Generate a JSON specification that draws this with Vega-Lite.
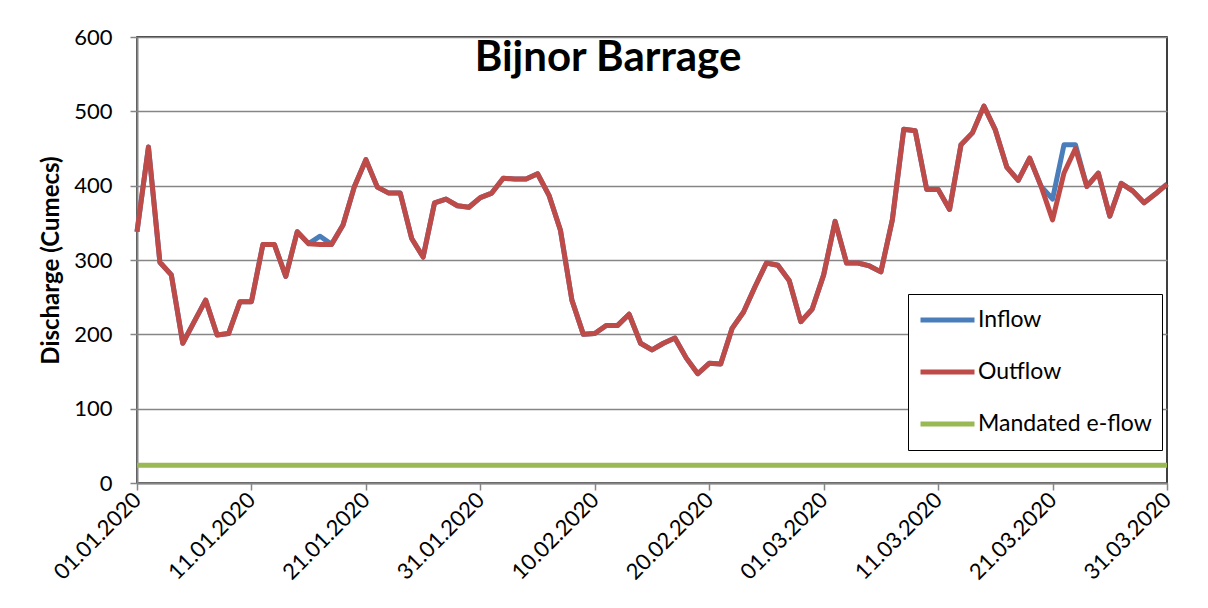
{
  "$schema": "https://vega.github.io/schema/vega-lite/v6.json",
  "width": 1030,
  "height": 446,
  "autosize": {"type": "none"},
  "padding": {"left": 137, "top": 37, "right": 41, "bottom": 125},
  "background": "white",
  "title": {
    "text": "Bijnor Barrage",
    "font": "Lato",
    "fontSize": 42,
    "fontWeight": "bold",
    "color": "black",
    "anchor": "middle",
    "baseline": "top",
    "offset": 0,
    "dy": 54,
    "dx": -44
  },
  "config": {
    "font": "Lato",
    "view": {"stroke": "black", "strokeWidth": 1.5}
  },
  "data": {
    "values": [
      {"date": "2020-01-01", "Inflow": 338, "Outflow": 338, "Mandated e-flow": 24},
      {"date": "2020-01-02", "Inflow": 452, "Outflow": 452, "Mandated e-flow": 24},
      {"date": "2020-01-03", "Inflow": 297, "Outflow": 297, "Mandated e-flow": 24},
      {"date": "2020-01-04", "Inflow": 280, "Outflow": 280, "Mandated e-flow": 24},
      {"date": "2020-01-05", "Inflow": 188, "Outflow": 188, "Mandated e-flow": 24},
      {"date": "2020-01-06", "Inflow": 217, "Outflow": 217, "Mandated e-flow": 24},
      {"date": "2020-01-07", "Inflow": 246, "Outflow": 246, "Mandated e-flow": 24},
      {"date": "2020-01-08", "Inflow": 199, "Outflow": 199, "Mandated e-flow": 24},
      {"date": "2020-01-09", "Inflow": 201, "Outflow": 201, "Mandated e-flow": 24},
      {"date": "2020-01-10", "Inflow": 244, "Outflow": 244, "Mandated e-flow": 24},
      {"date": "2020-01-11", "Inflow": 244, "Outflow": 244, "Mandated e-flow": 24},
      {"date": "2020-01-12", "Inflow": 321, "Outflow": 321, "Mandated e-flow": 24},
      {"date": "2020-01-13", "Inflow": 321, "Outflow": 321, "Mandated e-flow": 24},
      {"date": "2020-01-14", "Inflow": 278, "Outflow": 278, "Mandated e-flow": 24},
      {"date": "2020-01-15", "Inflow": 338, "Outflow": 338, "Mandated e-flow": 24},
      {"date": "2020-01-16", "Inflow": 322, "Outflow": 322, "Mandated e-flow": 24},
      {"date": "2020-01-17", "Inflow": 332, "Outflow": 321, "Mandated e-flow": 24},
      {"date": "2020-01-18", "Inflow": 321, "Outflow": 321, "Mandated e-flow": 24},
      {"date": "2020-01-19", "Inflow": 347, "Outflow": 347, "Mandated e-flow": 24},
      {"date": "2020-01-20", "Inflow": 399, "Outflow": 399, "Mandated e-flow": 24},
      {"date": "2020-01-21", "Inflow": 435, "Outflow": 435, "Mandated e-flow": 24},
      {"date": "2020-01-22", "Inflow": 398, "Outflow": 398, "Mandated e-flow": 24},
      {"date": "2020-01-23", "Inflow": 390, "Outflow": 390, "Mandated e-flow": 24},
      {"date": "2020-01-24", "Inflow": 390, "Outflow": 390, "Mandated e-flow": 24},
      {"date": "2020-01-25", "Inflow": 329, "Outflow": 329, "Mandated e-flow": 24},
      {"date": "2020-01-26", "Inflow": 304, "Outflow": 304, "Mandated e-flow": 24},
      {"date": "2020-01-27", "Inflow": 377, "Outflow": 377, "Mandated e-flow": 24},
      {"date": "2020-01-28", "Inflow": 382, "Outflow": 382, "Mandated e-flow": 24},
      {"date": "2020-01-29", "Inflow": 373, "Outflow": 373, "Mandated e-flow": 24},
      {"date": "2020-01-30", "Inflow": 371, "Outflow": 371, "Mandated e-flow": 24},
      {"date": "2020-01-31", "Inflow": 384, "Outflow": 384, "Mandated e-flow": 24},
      {"date": "2020-02-01", "Inflow": 390, "Outflow": 390, "Mandated e-flow": 24},
      {"date": "2020-02-02", "Inflow": 410, "Outflow": 410, "Mandated e-flow": 24},
      {"date": "2020-02-03", "Inflow": 409, "Outflow": 409, "Mandated e-flow": 24},
      {"date": "2020-02-04", "Inflow": 409, "Outflow": 409, "Mandated e-flow": 24},
      {"date": "2020-02-05", "Inflow": 416, "Outflow": 416, "Mandated e-flow": 24},
      {"date": "2020-02-06", "Inflow": 387, "Outflow": 387, "Mandated e-flow": 24},
      {"date": "2020-02-07", "Inflow": 340, "Outflow": 340, "Mandated e-flow": 24},
      {"date": "2020-02-08", "Inflow": 246, "Outflow": 246, "Mandated e-flow": 24},
      {"date": "2020-02-09", "Inflow": 200, "Outflow": 200, "Mandated e-flow": 24},
      {"date": "2020-02-10", "Inflow": 201, "Outflow": 201, "Mandated e-flow": 24},
      {"date": "2020-02-11", "Inflow": 212, "Outflow": 212, "Mandated e-flow": 24},
      {"date": "2020-02-12", "Inflow": 212, "Outflow": 212, "Mandated e-flow": 24},
      {"date": "2020-02-13", "Inflow": 227, "Outflow": 227, "Mandated e-flow": 24},
      {"date": "2020-02-14", "Inflow": 188, "Outflow": 188, "Mandated e-flow": 24},
      {"date": "2020-02-15", "Inflow": 179, "Outflow": 179, "Mandated e-flow": 24},
      {"date": "2020-02-16", "Inflow": 188, "Outflow": 188, "Mandated e-flow": 24},
      {"date": "2020-02-17", "Inflow": 195, "Outflow": 195, "Mandated e-flow": 24},
      {"date": "2020-02-18", "Inflow": 168, "Outflow": 168, "Mandated e-flow": 24},
      {"date": "2020-02-19", "Inflow": 147, "Outflow": 147, "Mandated e-flow": 24},
      {"date": "2020-02-20", "Inflow": 161, "Outflow": 161, "Mandated e-flow": 24},
      {"date": "2020-02-21", "Inflow": 160, "Outflow": 160, "Mandated e-flow": 24},
      {"date": "2020-02-22", "Inflow": 208, "Outflow": 208, "Mandated e-flow": 24},
      {"date": "2020-02-23", "Inflow": 230, "Outflow": 230, "Mandated e-flow": 24},
      {"date": "2020-02-24", "Inflow": 264, "Outflow": 264, "Mandated e-flow": 24},
      {"date": "2020-02-25", "Inflow": 296, "Outflow": 296, "Mandated e-flow": 24},
      {"date": "2020-02-26", "Inflow": 293, "Outflow": 293, "Mandated e-flow": 24},
      {"date": "2020-02-27", "Inflow": 272, "Outflow": 272, "Mandated e-flow": 24},
      {"date": "2020-02-28", "Inflow": 217, "Outflow": 217, "Mandated e-flow": 24},
      {"date": "2020-02-29", "Inflow": 234, "Outflow": 234, "Mandated e-flow": 24},
      {"date": "2020-03-01", "Inflow": 280, "Outflow": 280, "Mandated e-flow": 24},
      {"date": "2020-03-02", "Inflow": 352, "Outflow": 352, "Mandated e-flow": 24},
      {"date": "2020-03-03", "Inflow": 296, "Outflow": 296, "Mandated e-flow": 24},
      {"date": "2020-03-04", "Inflow": 296, "Outflow": 296, "Mandated e-flow": 24},
      {"date": "2020-03-05", "Inflow": 292, "Outflow": 292, "Mandated e-flow": 24},
      {"date": "2020-03-06", "Inflow": 284, "Outflow": 284, "Mandated e-flow": 24},
      {"date": "2020-03-07", "Inflow": 354, "Outflow": 354, "Mandated e-flow": 24},
      {"date": "2020-03-08", "Inflow": 476, "Outflow": 476, "Mandated e-flow": 24},
      {"date": "2020-03-09", "Inflow": 474, "Outflow": 474, "Mandated e-flow": 24},
      {"date": "2020-03-10", "Inflow": 395, "Outflow": 395, "Mandated e-flow": 24},
      {"date": "2020-03-11", "Inflow": 395, "Outflow": 395, "Mandated e-flow": 24},
      {"date": "2020-03-12", "Inflow": 368, "Outflow": 368, "Mandated e-flow": 24},
      {"date": "2020-03-13", "Inflow": 455, "Outflow": 455, "Mandated e-flow": 24},
      {"date": "2020-03-14", "Inflow": 471, "Outflow": 471, "Mandated e-flow": 24},
      {"date": "2020-03-15", "Inflow": 507, "Outflow": 507, "Mandated e-flow": 24},
      {"date": "2020-03-16", "Inflow": 475, "Outflow": 475, "Mandated e-flow": 24},
      {"date": "2020-03-17", "Inflow": 425, "Outflow": 425, "Mandated e-flow": 24},
      {"date": "2020-03-18", "Inflow": 407, "Outflow": 407, "Mandated e-flow": 24},
      {"date": "2020-03-19", "Inflow": 437, "Outflow": 437, "Mandated e-flow": 24},
      {"date": "2020-03-20", "Inflow": 399, "Outflow": 399, "Mandated e-flow": 24},
      {"date": "2020-03-21", "Inflow": 382, "Outflow": 354, "Mandated e-flow": 24},
      {"date": "2020-03-22", "Inflow": 455, "Outflow": 417, "Mandated e-flow": 24},
      {"date": "2020-03-23", "Inflow": 455, "Outflow": 450, "Mandated e-flow": 24},
      {"date": "2020-03-24", "Inflow": 399, "Outflow": 399, "Mandated e-flow": 24},
      {"date": "2020-03-25", "Inflow": 417, "Outflow": 417, "Mandated e-flow": 24},
      {"date": "2020-03-26", "Inflow": 359, "Outflow": 359, "Mandated e-flow": 24},
      {"date": "2020-03-27", "Inflow": 403, "Outflow": 403, "Mandated e-flow": 24},
      {"date": "2020-03-28", "Inflow": 393, "Outflow": 393, "Mandated e-flow": 24},
      {"date": "2020-03-29", "Inflow": 377, "Outflow": 377, "Mandated e-flow": 24},
      {"date": "2020-03-30", "Inflow": 389, "Outflow": 389, "Mandated e-flow": 24},
      {"date": "2020-03-31", "Inflow": 402, "Outflow": 402, "Mandated e-flow": 24}
    ]
  },
  "transform": [
    {"fold": ["Inflow", "Outflow", "Mandated e-flow"], "as": ["series", "value"]}
  ],
  "encoding": {
    "x": {
      "field": "date",
      "type": "temporal",
      "scale": {
        "type": "utc",
        "domain": [
          {"year": 2020, "month": 1, "date": 1, "utc": true},
          {"year": 2020, "month": 3, "date": 31, "utc": true}
        ]
      },
      "axis": {
        "title": null,
        "labelExpr": "utcFormat(datum.value, '%d.%m.%Y')",
        "values": [
          {"year": 2020, "month": 1, "date": 1, "utc": true},
          {"year": 2020, "month": 1, "date": 11, "utc": true},
          {"year": 2020, "month": 1, "date": 21, "utc": true},
          {"year": 2020, "month": 1, "date": 31, "utc": true},
          {"year": 2020, "month": 2, "date": 10, "utc": true},
          {"year": 2020, "month": 2, "date": 20, "utc": true},
          {"year": 2020, "month": 3, "date": 1, "utc": true},
          {"year": 2020, "month": 3, "date": 11, "utc": true},
          {"year": 2020, "month": 3, "date": 21, "utc": true},
          {"year": 2020, "month": 3, "date": 31, "utc": true}
        ],
        "grid": false,
        "labelAngle": -45,
        "labelAlign": "right",
        "labelBaseline": "middle",
        "labelFontSize": 22,
        "labelColor": "black",
        "labelPadding": 6,
        "labelOverlap": false,
        "labelFlush": false,
        "domainColor": "#868686",
        "domainWidth": 2,
        "tickColor": "#868686",
        "tickWidth": 1.5,
        "tickSize": 7
      }
    },
    "y": {
      "field": "value",
      "type": "quantitative",
      "scale": {"domain": [0, 600], "nice": false, "zero": true},
      "axis": {
        "title": "Discharge (Cumecs)",
        "titleFontSize": 24,
        "titleFontWeight": "bold",
        "titleColor": "black",
        "titlePadding": 10,
        "values": [0, 100, 200, 300, 400, 500, 600],
        "grid": true,
        "gridColor": "#868686",
        "gridWidth": 1.5,
        "labelFontSize": 22,
        "labelColor": "black",
        "labelPadding": 18,
        "domainColor": "#868686",
        "domainWidth": 2,
        "tickColor": "#868686",
        "tickWidth": 1.5,
        "tickSize": 7
      }
    },
    "color": {
      "field": "series",
      "type": "nominal",
      "scale": {
        "domain": ["Inflow", "Outflow", "Mandated e-flow"],
        "range": ["#4A7EBB", "#BE4B48", "#98B954"]
      },
      "legend": {
        "title": null,
        "orient": "none",
        "legendX": 771,
        "legendY": 257,
        "symbolType": "stroke",
        "symbolSize": 2916,
        "symbolStrokeWidth": 5,
        "clipHeight": 32,
        "rowPadding": 20,
        "padding": 10,
        "labelOffset": 1,
        "labelFontSize": 23,
        "labelColor": "black",
        "labelLimit": 300,
        "strokeColor": "black",
        "fillColor": "white"
      }
    }
  },
  "layer": [
    {
      "transform": [{"filter": "datum.series === 'Inflow'"}],
      "mark": {"type": "line", "strokeWidth": 5, "strokeJoin": "round"}
    },
    {
      "transform": [{"filter": "datum.series === 'Outflow'"}],
      "mark": {"type": "line", "strokeWidth": 5, "strokeJoin": "round"}
    },
    {
      "transform": [{"filter": "datum.series === 'Mandated e-flow'"}],
      "mark": {"type": "line", "strokeWidth": 5}
    }
  ]
}
